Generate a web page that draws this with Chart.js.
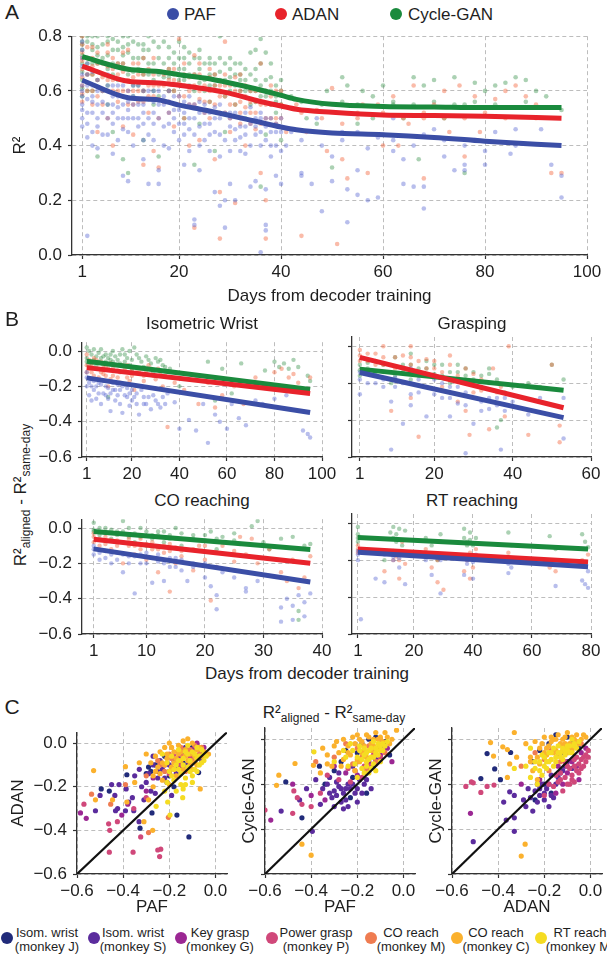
<!DOCTYPE html>
<html>
<head>
<meta charset="utf-8">
<script src="https://cdn.jsdelivr.net/npm/chart.js@4.4.0/dist/chart.umd.min.js"></script>
<style>
body { margin: 0; width: 607px; height: 955px; position: relative; background: #fff; overflow: hidden;
       font-family: "Liberation Sans", Arial, sans-serif; color: #1e1e1e; }
canvas { position: absolute; }
.c { position: absolute; white-space: nowrap; line-height: 1; transform: translate(-50%, -50%); }
.l { position: absolute; white-space: nowrap; line-height: 1; transform: translateY(-50%); font-size: 17px; }
.dot { position: absolute; width: 12px; height: 12px; border-radius: 50%; transform: translate(-50%, -50%); }
sub { font-size: 12px; vertical-align: -4px; line-height: 0; }
.leg { position: absolute; font-size: 13px; line-height: 14px; text-align: center; transform: translate(-50%, -50%); white-space: nowrap; }
</style>
</head>
<body>

<div class="c" style="left:12px;top:11px;font-size:21px">A</div>
<div class="dot" style="left:173px;top:14px;background:#3b4ea6"></div><div class="l" style="left:184px;top:14px">PAF</div>
<div class="dot" style="left:281px;top:14px;background:#e8232b"></div><div class="l" style="left:292px;top:14px">ADAN</div>
<div class="dot" style="left:396px;top:14px;background:#1a8a3d"></div><div class="l" style="left:408px;top:14px">Cycle-GAN</div>
<canvas id="cA" width="607" height="290" style="left:0;top:20px"></canvas>

<div class="c" style="left:12px;top:318px;font-size:21px">B</div>
<div class="c" style="left:202px;top:323px;font-size:17px">Isometric Wrist</div>
<div class="c" style="left:472px;top:323px;font-size:17px">Grasping</div>
<div class="c" style="left:202px;top:500px;font-size:17px">CO reaching</div>
<div class="c" style="left:472px;top:500px;font-size:17px">RT reaching</div>
<div class="c" style="left:20px;top:495px;font-size:17px;transform:translate(-50%,-50%) rotate(-90deg)">R²<sub>aligned</sub> - R²<sub>same-day</sub></div>
<div class="c" style="left:307px;top:673px;font-size:17px">Days from decoder training</div>
<canvas id="cB1" width="310" height="161" style="left:30px;top:326px"></canvas>
<canvas id="cB2" width="267" height="161" style="left:340px;top:326px"></canvas>
<canvas id="cB3" width="310" height="161" style="left:30px;top:503px"></canvas>
<canvas id="cB4" width="267" height="161" style="left:340px;top:503px"></canvas>

<div class="c" style="left:12px;top:706px;font-size:21px">C</div>
<div class="c" style="left:334px;top:712px;font-size:17px">R²<sub>aligned</sub> - R²<sub>same-day</sub></div>
<canvas id="cC1" width="236" height="206" style="left:0;top:716px"></canvas>
<canvas id="cC2" width="188" height="206" style="left:236px;top:716px"></canvas>
<canvas id="cC3" width="183" height="206" style="left:424px;top:716px"></canvas>

<div id="legC"></div>

<script>
// ---- panel A: R2 per session, days from decoder training ----
const aDays = [1, 10, 16, 20, 25, 30, 35, 40, 43, 50, 60, 70, 80, 95];
const aFitPAF = [0.639, 0.575, 0.567, 0.548, 0.53, 0.51, 0.489, 0.468, 0.458, 0.446, 0.44, 0.43, 0.416, 0.4];
const aFitADAN = [0.691, 0.635, 0.629, 0.621, 0.608, 0.591, 0.566, 0.545, 0.533, 0.522, 0.512, 0.51, 0.507, 0.5];
const aFitCycle = [0.725, 0.679, 0.671, 0.659, 0.647, 0.629, 0.608, 0.584, 0.569, 0.551, 0.543, 0.541, 0.539, 0.539];

const aPAF = [[1,0.78],[1,0.72],[1,0.66],[1,0.6],[1,0.55],[1,0.5],[1,0.47],[2,0.07],[2,0.7],[2,0.62],[2,0.43],[3,0.58],[3,0.52],[3,0.4],[4,0.64],[4,0.47],[4,0.39],[6,0.6],[6,0.5],[6,0.44],[7,0.55],[7,0.37],[9,0.62],[9,0.46],[9,0.29],[10,0.53],[10,0.27],[11,0.58],[11,0.4],[13,0.55],[13,0.48],[13,0.35],[14,0.26],[15,0.6],[15,0.42],[16,0.31],[16,0.26],[18,0.52],[18,0.39],[19,0.45],[21,0.56],[21,0.33],[22,0.5],[22,0.38],[23,0.13],[23,0.11],[24,0.47],[24,0.31],[26,0.52],[26,0.44],[27,0.23],[28,0.18],[28,0.36],[29,0.1],[29,0.2],[30,0.47],[30,0.26],[31,0.2],[32,0.43],[33,0.37],[34,0.25],[35,0.5],[35,0.27],[36,0.01],[36,0.4],[37,0.11],[37,0.09],[37,0.24],[38,0.45],[39,0.55],[39,0.29],[40,0.26],[41,0.4],[42,0.45],[44,0.3],[44,0.29],[46,0.26],[47,0.5],[48,0.16],[50,0.36],[50,0.27],[52,0.45],[53,0.12],[53,0.24],[55,0.31],[55,0.22],[57,0.39],[57,0.2],[59,0.21],[60,0.44],[62,0.5],[62,0.38],[64,0.26],[64,0.35],[66,0.25],[68,0.17],[68,0.25],[70,0.46],[72,0.36],[74,0.31],[76,0.33],[76,0.31],[78,0.42],[80,0.33],[82,0.45],[85,0.37],[86,0.46],[91,0.46],[93,0.33],[95,0.29],[95,0.21],
  [1,0.69],[1,0.62],[2,0.57],[2,0.52],[3,0.67],[3,0.62],[4,0.55],[5,0.6],[5,0.52],[6,0.66],[7,0.62],[7,0.48],[8,0.58],[8,0.5],[9,0.55],[10,0.6],[10,0.45],[11,0.5],[12,0.62],[12,0.47],[13,0.6],[14,0.57],[14,0.44],[15,0.52],[16,0.6],[17,0.55],[17,0.47],[18,0.6],[19,0.53],[20,0.58],[20,0.48],[21,0.44],[22,0.55],[23,0.5],[24,0.56],[25,0.52],[25,0.42],[27,0.5],[28,0.55],[28,0.44],[30,0.52],[31,0.46],[32,0.5],[33,0.47],[34,0.54],[35,0.44],[36,0.5],[37,0.47],[38,0.4],[39,0.45],[40,0.5],
  [1,0.75],[1,0.58],[1,0.53],[2,0.66],[2,0.48],[3,0.45],[3,0.56],[4,0.6],[4,0.5],[5,0.56],[5,0.44],[6,0.55],[6,0.62],[7,0.58],[7,0.52],[8,0.54],[8,0.62],[8,0.42],[9,0.58],[9,0.5],[10,0.56],[10,0.5],[11,0.55],[11,0.62],[12,0.55],[12,0.5],[13,0.52],[13,0.42],[14,0.6],[14,0.5],[15,0.56],[15,0.48],[16,0.55],[16,0.5],[17,0.58],[17,0.4],[18,0.56],[18,0.48],[19,0.58],[19,0.5],[20,0.53],[20,0.42],[21,0.52],[21,0.48],[22,0.58],[22,0.46],[23,0.55],[23,0.44],[24,0.52],[24,0.4],[25,0.55],[25,0.48],[26,0.48],[26,0.38],[27,0.54],[27,0.45],[28,0.5],[29,0.52],[29,0.42],[30,0.5],[30,0.38],[31,0.52],[31,0.42],[32,0.47],[32,0.38],[33,0.52],[33,0.44],[34,0.48],[34,0.4],[35,0.47],[36,0.45],[36,0.52],[37,0.5],[37,0.42],[38,0.5],[38,0.36],[39,0.48],[39,0.4],[40,0.45],[40,0.38],[44,0.42],[48,0.4],[52,0.42],[55,0.45],[59,0.43],[62,0.42],[66,0.4],[68,0.44],[72,0.42],[76,0.4],[80,0.38],[86,0.4]];
const aADAN = [[1,0.8],[1,0.74],[1,0.68],[1,0.62],[1,0.56],[2,0.72],[2,0.6],[3,0.76],[3,0.66],[3,0.55],[4,0.7],[4,0.58],[4,0.45],[6,0.74],[6,0.64],[6,0.5],[7,0.68],[7,0.4],[9,0.7],[9,0.6],[9,0.47],[10,0.75],[10,0.55],[11,0.65],[11,0.44],[13,0.72],[13,0.6],[13,0.33],[14,0.52],[15,0.66],[15,0.38],[16,0.32],[18,0.68],[18,0.56],[19,0.47],[20,0.79],[21,0.62],[21,0.5],[22,0.4],[23,0.73],[23,0.1],[24,0.57],[24,0.42],[26,0.65],[26,0.5],[27,0.35],[28,0.06],[28,0.23],[29,0.78],[29,0.58],[30,0.45],[31,0.19],[32,0.66],[32,0.52],[33,0.4],[34,0.6],[35,0.46],[36,0.7],[36,0.3],[37,0.06],[37,0.2],[38,0.55],[39,0.48],[40,0.6],[41,0.45],[43,0.55],[44,0.07],[45,0.45],[47,0.53],[49,0.38],[50,0.61],[51,0.04],[52,0.35],[53,0.28],[55,0.5],[56,0.55],[57,0.3],[59,0.55],[60,0.4],[62,0.58],[63,0.4],[65,0.48],[66,0.62],[68,0.28],[68,0.5],[70,0.55],[72,0.6],[73,0.45],[75,0.62],[76,0.36],[78,0.58],[79,0.45],[82,0.57],[84,0.6],[86,0.62],[88,0.58],[90,0.55],[93,0.3],[95,0.3],
  [1,0.77],[1,0.71],[1,0.65],[2,0.66],[3,0.72],[4,0.64],[5,0.7],[5,0.6],[6,0.69],[7,0.6],[8,0.66],[8,0.56],[9,0.64],[10,0.68],[11,0.6],[12,0.66],[12,0.56],[13,0.66],[14,0.62],[15,0.58],[16,0.67],[16,0.5],[17,0.62],[18,0.6],[19,0.64],[20,0.58],[21,0.66],[22,0.55],[23,0.62],[24,0.66],[25,0.56],[26,0.6],[27,0.62],[28,0.52],[29,0.66],[30,0.55],[31,0.6],[32,0.48],[33,0.58],[34,0.52],[35,0.56],[36,0.6],[37,0.5],[38,0.62],[39,0.55],
  [1,0.72],[1,0.59],[2,0.76],[2,0.63],[3,0.69],[3,0.6],[4,0.74],[4,0.67],[5,0.65],[5,0.55],[6,0.77],[6,0.6],[7,0.72],[7,0.64],[8,0.7],[8,0.6],[9,0.74],[9,0.67],[10,0.64],[10,0.6],[11,0.7],[11,0.55],[12,0.7],[12,0.6],[13,0.63],[13,0.56],[14,0.68],[14,0.58],[15,0.72],[15,0.62],[16,0.62],[16,0.57],[17,0.66],[17,0.56],[18,0.64],[18,0.52],[19,0.6],[19,0.68],[20,0.63],[20,0.55],[21,0.7],[21,0.58],[22,0.65],[22,0.6],[23,0.66],[23,0.55],[24,0.7],[24,0.6],[25,0.62],[25,0.52],[26,0.68],[26,0.56],[27,0.66],[27,0.55],[28,0.62],[28,0.58],[29,0.62],[29,0.52],[30,0.62],[30,0.5],[31,0.65],[31,0.55],[32,0.6],[32,0.56],[33,0.62],[33,0.54],[34,0.56],[34,0.48],[35,0.6],[35,0.52],[36,0.55],[36,0.48],[37,0.6],[37,0.55],[38,0.58],[38,0.5],[39,0.6],[39,0.5],[40,0.55],[40,0.5],[44,0.52],[48,0.5],[52,0.48],[55,0.52],[60,0.52],[64,0.5],[68,0.52],[72,0.5],[76,0.5],[80,0.52],[84,0.5],[90,0.5]];
const aCycle = [[1,0.8],[1,0.75],[1,0.7],[1,0.64],[1,0.58],[2,0.78],[2,0.66],[3,0.8],[3,0.7],[3,0.6],[4,0.76],[4,0.36],[6,0.78],[6,0.68],[6,0.55],[7,0.79],[7,0.45],[9,0.76],[9,0.64],[9,0.35],[10,0.8],[10,0.3],[11,0.72],[11,0.58],[13,0.77],[13,0.66],[13,0.42],[14,0.8],[15,0.7],[15,0.55],[16,0.36],[18,0.76],[18,0.6],[19,0.66],[20,0.78],[21,0.72],[21,0.5],[22,0.62],[23,0.33],[24,0.75],[24,0.48],[26,0.7],[26,0.56],[27,0.38],[28,0.8],[28,0.6],[29,0.45],[30,0.72],[31,0.55],[32,0.66],[33,0.5],[34,0.74],[35,0.6],[35,0.75],[36,0.79],[36,0.25],[37,0.74],[37,0.44],[38,0.65],[39,0.52],[40,0.64],[40,0.42],[42,0.58],[45,0.5],[47,0.48],[49,0.6],[50,0.32],[52,0.65],[53,0.62],[55,0.48],[56,0.6],[58,0.5],[60,0.62],[62,0.55],[64,0.5],[66,0.65],[67,0.35],[68,0.62],[70,0.64],[72,0.5],[74,0.65],[76,0.3],[76,0.55],[78,0.63],[80,0.6],[82,0.62],[84,0.63],[86,0.65],[88,0.64],[90,0.6],[92,0.58],[95,0.53],
  [1,0.78],[1,0.73],[1,0.67],[2,0.72],[3,0.75],[4,0.7],[5,0.77],[5,0.66],[6,0.73],[7,0.7],[8,0.75],[8,0.64],[9,0.7],[10,0.74],[11,0.67],[12,0.77],[12,0.62],[13,0.72],[14,0.7],[15,0.64],[16,0.76],[16,0.58],[17,0.7],[18,0.68],[19,0.74],[20,0.64],[21,0.68],[22,0.74],[23,0.6],[24,0.68],[25,0.64],[26,0.72],[27,0.62],[28,0.67],[29,0.58],[30,0.65],[31,0.7],[32,0.6],[33,0.64],[34,0.55],[35,0.68],[36,0.62],[37,0.58],[38,0.6],[39,0.56],
  [1,0.77],[1,0.61],[2,0.8],[2,0.7],[2,0.6],[3,0.77],[3,0.66],[4,0.8],[4,0.73],[4,0.64],[5,0.72],[5,0.6],[6,0.8],[6,0.62],[7,0.75],[7,0.66],[8,0.78],[8,0.7],[9,0.8],[9,0.73],[10,0.77],[10,0.66],[11,0.78],[11,0.62],[12,0.72],[12,0.68],[13,0.75],[13,0.6],[14,0.75],[14,0.66],[15,0.78],[15,0.6],[16,0.72],[16,0.66],[17,0.78],[17,0.65],[18,0.72],[18,0.65],[19,0.7],[19,0.6],[20,0.72],[20,0.68],[21,0.76],[21,0.64],[22,0.7],[22,0.66],[23,0.72],[23,0.66],[24,0.72],[24,0.63],[25,0.7],[25,0.6],[26,0.66],[26,0.62],[27,0.7],[27,0.66],[28,0.72],[28,0.64],[29,0.7],[29,0.64],[30,0.68],[30,0.6],[31,0.66],[31,0.62],[32,0.7],[32,0.64],[33,0.68],[33,0.6],[34,0.66],[34,0.6],[35,0.64],[35,0.56],[36,0.7],[36,0.58],[37,0.64],[37,0.6],[38,0.7],[38,0.55],[39,0.62],[39,0.58],[40,0.6],[40,0.55],[44,0.56],[48,0.55],[52,0.56],[55,0.55],[58,0.58],[62,0.56],[66,0.55],[70,0.56],[74,0.55],[78,0.56],[82,0.55],[88,0.56]];

// ---- panel B: R2 drop per task, linear fits as end points ----
const wristFitDays = [1, 95];
const wristFitPAF = [-0.152, -0.348];
const wristFitADAN = [-0.094, -0.24];
const wristFitCycle = [-0.058, -0.218];
const graspFitDays = [1, 53];
const graspFitPAF = [-0.142, -0.387];
const graspFitADAN = [-0.06, -0.333];
const graspFitCycle = [-0.124, -0.238];
const coFitDays = [1, 38];
const coFitPAF = [-0.118, -0.306];
const coFitADAN = [-0.064, -0.2];
const coFitCycle = [-0.019, -0.121];
const rtFitDays = [1, 79];
const rtFitPAF = [-0.157, -0.236];
const rtFitADAN = [-0.14, -0.21];
const rtFitCycle = [-0.077, -0.139];

const wristPAF = [[1,-0.12],[1,-0.2],[2,-0.25],[3,-0.16],[4,-0.22],[5,-0.27],[6,-0.18],[7,-0.3],[8,-0.24],[9,-0.2],[10,-0.27],[11,-0.34],[12,-0.22],[13,-0.28],[14,-0.19],[15,-0.3],[16,-0.35],[18,-0.26],[19,-0.31],[20,-0.22],[22,-0.3],[23,-0.36],[25,-0.26],[26,-0.3],[28,-0.33],[30,-0.28],[32,-0.32],[34,-0.3],[38,-0.29],[40,-0.44],[44,-0.39],[47,-0.45],[50,-0.3],[52,-0.52],[55,-0.36],[57,-0.4],[60,-0.44],[62,-0.3],[65,-0.38],[68,-0.42],[72,-0.28],[75,-0.3],[80,-0.27],[85,-0.25],[92,-0.45],[94,-0.47],[95,-0.49],
  [1,-0.15],[2,-0.18],[3,-0.2],[3,-0.28],[4,-0.17],[5,-0.2],[6,-0.24],[7,-0.19],[8,-0.17],[9,-0.25],[10,-0.21],[11,-0.24],[12,-0.18],[13,-0.22],[14,-0.25],[15,-0.22],[16,-0.2],[17,-0.25],[18,-0.21],[19,-0.24],[20,-0.28],[21,-0.26],[22,-0.24],[24,-0.22],[25,-0.3],[27,-0.26],[29,-0.25],[31,-0.3],[33,-0.26],[35,-0.24]];
const wristADAN = [[1,-0.02],[1,-0.08],[2,-0.05],[3,-0.12],[4,-0.04],[5,-0.1],[6,-0.15],[7,-0.06],[8,-0.13],[9,-0.09],[10,-0.2],[11,-0.07],[12,-0.14],[14,-0.11],[15,-0.18],[16,-0.08],[18,-0.15],[20,-0.1],[21,-0.22],[23,-0.12],[25,-0.17],[27,-0.08],[29,-0.14],[31,-0.1],[33,-0.2],[35,-0.43],[38,-0.18],[42,-0.22],[48,-0.3],[52,-0.18],[55,-0.32],[58,-0.25],[63,-0.2],[67,-0.3],[72,-0.15],[76,-0.21],[80,-0.12],[83,-0.1],[86,-0.15],[88,-0.13],[90,-0.18],[93,-0.22],[95,-0.15],
  [1,-0.12],[2,-0.1],[3,-0.08],[4,-0.14],[5,-0.05],[6,-0.1],[7,-0.12],[8,-0.08],[9,-0.14],[10,-0.1],[11,-0.16],[12,-0.1],[13,-0.08],[14,-0.15],[15,-0.12],[17,-0.1],[18,-0.08],[19,-0.17],[20,-0.14],[22,-0.12],[24,-0.1],[25,-0.14],[26,-0.12],[28,-0.1],[30,-0.16],[32,-0.12],[34,-0.14]];
const wristCycle = [[1,0.02],[1,-0.04],[2,0.0],[3,-0.07],[4,0.01],[5,-0.03],[6,-0.06],[7,0.01],[8,-0.1],[9,-0.02],[10,-0.26],[11,-0.05],[12,0.0],[13,-0.08],[15,-0.02],[16,0.01],[17,-0.06],[19,0.0],[20,-0.11],[21,0.02],[23,-0.04],[25,-0.09],[27,-0.05],[29,-0.12],[31,-0.06],[33,-0.08],[36,-0.1],[40,-0.2],[47,-0.14],[52,-0.06],[55,-0.28],[58,-0.1],[62,-0.24],[66,-0.07],[70,-0.2],[76,-0.11],[80,-0.06],[82,-0.09],[84,-0.07],[86,-0.1],[88,-0.05],[90,-0.09],[94,-0.14],[95,-0.17],
  [1,-0.06],[2,-0.08],[3,-0.02],[4,-0.05],[5,-0.08],[6,-0.01],[7,-0.04],[8,-0.03],[9,-0.06],[10,-0.04],[11,-0.02],[12,-0.06],[13,-0.03],[14,-0.05],[15,-0.07],[17,-0.02],[18,-0.04],[19,-0.08],[20,-0.05],[22,-0.02],[24,-0.06],[26,-0.03],[28,-0.07],[30,-0.04],[32,-0.05],[34,-0.09]];
const graspPAF = [[1,-0.18],[1,-0.26],[3,-0.15],[5,-0.2],[7,-0.22],[9,-0.56],[9,-0.3],[10,-0.17],[12,-0.42],[14,-0.12],[14,-0.32],[14,-0.2],[16,-0.25],[18,-0.38],[20,-0.18],[22,-0.28],[24,-0.22],[24,-0.38],[26,-0.31],[28,-0.58],[28,-0.25],[30,-0.42],[32,-0.3],[34,-0.34],[36,-0.28],[37,-0.56],[38,-0.35],[40,-0.3],[44,-0.37],[47,-0.28],[53,-0.5],[53,-0.28],
  [1,-0.14],[3,-0.2],[5,-0.16],[7,-0.18],[10,-0.22],[12,-0.2],[14,-0.26],[16,-0.18],[18,-0.22],[20,-0.26],[22,-0.2],[24,-0.28],[26,-0.22],[28,-0.32],[30,-0.28],[32,-0.35],[34,-0.28],[36,-0.32],[38,-0.28]];
const graspADAN = [[1,-0.02],[1,-0.08],[3,-0.04],[5,-0.1],[7,0.0],[7,-0.06],[9,-0.35],[10,-0.12],[12,-0.05],[14,0.0],[14,-0.1],[14,-0.28],[16,-0.49],[16,-0.15],[18,-0.07],[20,-0.12],[22,-0.22],[24,-0.05],[24,-0.18],[26,-0.3],[28,-0.12],[28,-0.35],[29,-0.48],[30,-0.25],[32,-0.18],[34,-0.45],[35,-0.12],[37,-0.22],[38,-0.38],[39,0.0],[44,-0.48],[50,-0.1],[52,-0.43],[52,-0.52],
  [1,-0.05],[3,-0.08],[5,-0.04],[7,-0.1],[10,-0.06],[12,-0.12],[14,-0.06],[16,-0.08],[18,-0.12],[20,-0.08],[22,-0.14],[24,-0.1],[26,-0.16],[28,-0.2],[30,-0.15],[32,-0.24],[34,-0.2],[36,-0.25]];
const graspCycle = [[1,-0.1],[1,-0.16],[3,-0.12],[5,-0.08],[7,-0.14],[9,-0.2],[10,-0.06],[12,-0.1],[14,-0.04],[14,-0.18],[16,-0.12],[18,-0.08],[20,-0.15],[22,-0.1],[24,-0.2],[26,-0.14],[28,-0.12],[30,-0.18],[32,-0.22],[34,-0.15],[36,-0.44],[37,-0.4],[38,-0.25],[40,-0.22],[44,-0.2],[47,-0.22],[50,-0.1],[53,-0.18],
  [1,-0.13],[3,-0.09],[5,-0.14],[7,-0.1],[10,-0.16],[12,-0.14],[14,-0.1],[16,-0.16],[18,-0.12],[20,-0.1],[22,-0.16],[24,-0.14],[26,-0.1],[28,-0.16],[30,-0.14],[32,-0.16],[34,-0.12],[36,-0.18]];
const coPAF = [[1,-0.1],[1,-0.15],[2,-0.18],[3,-0.13],[4,-0.2],[5,-0.14],[6,-0.25],[7,-0.16],[8,-0.37],[9,-0.2],[10,-0.14],[11,-0.31],[12,-0.19],[13,-0.3],[14,-0.22],[15,-0.17],[16,-0.24],[17,-0.3],[18,-0.2],[20,-0.28],[21,-0.33],[22,-0.46],[22,-0.38],[23,-0.25],[25,-0.28],[27,-0.36],[27,-0.34],[29,-0.3],[31,-0.27],[33,-0.53],[33,-0.45],[34,-0.4],[35,-0.52],[35,-0.44],[36,-0.38],[37,-0.42],[37,-0.5],[38,-0.37],
  [1,-0.12],[2,-0.14],[3,-0.17],[4,-0.15],[5,-0.18],[6,-0.15],[7,-0.2],[8,-0.16],[9,-0.15],[10,-0.2],[11,-0.17],[12,-0.15],[13,-0.2],[14,-0.17],[15,-0.22],[16,-0.18],[18,-0.22],[20,-0.2],[22,-0.22],[25,-0.24]];
const coADAN = [[1,-0.03],[1,-0.08],[2,-0.1],[3,-0.05],[4,-0.12],[5,-0.07],[6,-0.2],[7,-0.1],[8,-0.15],[9,-0.06],[10,-0.18],[11,-0.12],[12,-0.25],[13,-0.14],[14,-0.36],[14,-0.09],[15,-0.2],[16,-0.13],[18,-0.24],[19,-0.1],[20,-0.18],[21,-0.41],[22,-0.22],[23,-0.1],[25,-0.19],[26,-0.05],[27,-0.15],[28,-0.06],[29,-0.2],[31,-0.12],[33,-0.25],[34,-0.3],[35,-0.18],[36,-0.34],[37,-0.28],[38,-0.16],
  [1,-0.05],[2,-0.06],[3,-0.09],[4,-0.07],[5,-0.1],[6,-0.08],[7,-0.06],[8,-0.1],[9,-0.12],[10,-0.09],[11,-0.08],[12,-0.12],[13,-0.1],[14,-0.13],[15,-0.11],[16,-0.16],[18,-0.12],[20,-0.1],[22,-0.14],[25,-0.13]];
const coCycle = [[1,0.03],[1,-0.02],[2,-0.04],[3,0.0],[4,-0.06],[5,-0.02],[6,0.04],[7,-0.05],[8,-0.08],[9,0.0],[10,-0.1],[11,-0.04],[12,-0.02],[13,-0.08],[14,-0.06],[15,0.0],[16,-0.1],[18,-0.04],[20,-0.07],[21,-0.02],[22,-0.12],[23,-0.05],[25,-0.03],[26,-0.09],[28,0.01],[29,0.04],[30,-0.08],[31,-0.12],[33,-0.06],[35,-0.05],[36,-0.47],[36,-0.52],[37,-0.1],[38,-0.09],
  [1,-0.01],[2,0.0],[3,-0.03],[4,-0.01],[5,-0.04],[6,-0.02],[7,0.0],[8,-0.03],[9,-0.05],[10,-0.02],[11,-0.06],[12,-0.04],[13,-0.02],[14,-0.04],[15,-0.06],[16,-0.03],[18,-0.06],[20,-0.04],[22,-0.06],[25,-0.07]];
const rtPAF = [[1,-0.15],[1,-0.2],[2,-0.52],[7,-0.3],[10,-0.17],[10,-0.32],[13,-0.2],[15,-0.24],[17,-0.33],[24,-0.2],[26,-0.28],[29,-0.38],[29,-0.2],[37,-0.28],[38,-0.22],[40,-0.3],[41,-0.17],[52,-0.27],[52,-0.2],[53,-0.24],[66,-0.2],[68,-0.34],[77,-0.31],[78,-0.33],[79,-0.35],[79,-0.26],
  [1,-0.17],[13,-0.18],[14,-0.16],[15,-0.19],[38,-0.2],[39,-0.18],[40,-0.21],[52,-0.22]];
const rtADAN = [[1,-0.12],[1,-0.16],[10,-0.26],[11,-0.15],[13,-0.2],[15,-0.3],[16,-0.1],[17,-0.22],[24,-0.14],[26,-0.24],[28,-0.32],[29,-0.1],[30,-0.36],[37,-0.26],[38,-0.18],[39,-0.3],[40,-0.24],[41,-0.14],[52,-0.16],[53,-0.2],[66,-0.24],[68,-0.26],[77,-0.2],[78,-0.22],[79,-0.17],
  [1,-0.14],[13,-0.15],[14,-0.18],[15,-0.2],[28,-0.2],[38,-0.2],[39,-0.16],[40,-0.19]];
const rtCycle = [[1,-0.02],[1,-0.06],[1,-0.1],[10,-0.2],[12,-0.05],[13,-0.02],[14,-0.1],[15,-0.03],[16,-0.12],[17,-0.04],[24,-0.08],[26,-0.12],[28,-0.2],[29,-0.06],[37,-0.03],[38,-0.1],[39,-0.05],[40,-0.12],[41,-0.08],[52,-0.05],[53,-0.12],[66,-0.07],[68,-0.14],[77,-0.06],[78,-0.1],[79,-0.13],
  [1,-0.08],[13,-0.08],[14,-0.06],[15,-0.09],[29,-0.1],[37,-0.08],[38,-0.12],[39,-0.09]];

// ---- panel C: pairwise comparison per monkey/task ----
const groupNames = ['Isom. wrist\n(monkey J)', 'Isom. wrist\n(monkey S)', 'Key grasp\n(monkey G)', 'Power grasp\n(monkey P)', 'CO reach\n(monkey M)', 'CO reach\n(monkey C)', 'RT reach\n(monkey M)'];
const groupColors = ['#212b7a', '#5b2c9d', '#9b2793', '#d0487a', '#ef7c51', '#fbb12d', '#f5dc22'];

const c1J = [[-0.495,-0.21],[-0.46,-0.22],[-0.384,-0.145],[-0.327,-0.39],[-0.275,-0.32],[-0.29,-0.11],[-0.28,-0.13],[-0.26,-0.1],[-0.3,-0.14],[-0.22,-0.06],[-0.18,-0.2],[-0.167,-0.33],[-0.115,-0.43],[-0.073,-0.135],[-0.06,-0.04],[-0.1,-0.02],[-0.05,-0.05],[-0.08,-0.06],[-0.14,-0.09],[-0.2,-0.15]];
const c1S = [[-0.52,-0.31],[-0.5,-0.24],[-0.45,-0.19],[-0.436,-0.24],[-0.433,-0.31],[-0.424,-0.3],[-0.418,-0.19],[-0.387,-0.21],[-0.376,-0.27],[-0.39,-0.31],[-0.354,-0.31],[-0.331,-0.36],[-0.261,-0.23],[-0.32,-0.2],[-0.3,-0.18],[-0.28,-0.22],[-0.35,-0.15],[-0.33,-0.12],[-0.25,-0.16],[-0.24,-0.08],[-0.21,-0.18],[-0.2,-0.1],[-0.17,-0.14],[-0.15,-0.05],[-0.12,-0.1],[-0.1,-0.06],[-0.08,-0.01],[-0.06,-0.08],[-0.13,-0.02],[-0.23,-0.12],[-0.27,-0.06],[-0.36,-0.25],[-0.31,-0.26],[-0.19,-0.24],
  [-0.29,-0.14],[-0.27,-0.1],[-0.25,-0.13],[-0.22,-0.16],[-0.2,-0.13],[-0.18,-0.08],[-0.16,-0.11],[-0.14,-0.04]];
const c1G = [[-0.585,-0.32],[-0.56,-0.345],[-0.406,-0.33],[-0.38,-0.28],[-0.3,-0.22],[-0.27,-0.16],[-0.22,-0.1],[-0.16,-0.07],[-0.1,-0.03],[-0.08,0.0],[-0.14,-0.11],[-0.05,-0.02]];
const c1P = [[-0.57,-0.28],[-0.463,-0.37],[-0.458,-0.4],[-0.46,-0.5],[-0.425,-0.36],[-0.357,-0.5],[-0.324,-0.43],[-0.25,-0.49],[-0.237,-0.486],[-0.242,-0.52],[-0.354,-0.3],[-0.3,-0.25],[-0.2,-0.14],[-0.15,-0.1],[-0.11,-0.06],[-0.07,-0.03],[-0.18,-0.06]];
const c1M = [[-0.537,-0.234],[-0.454,-0.28],[-0.39,-0.19],[-0.29,-0.41],[-0.204,-0.34],[-0.3,-0.15],[-0.25,-0.08],[-0.2,-0.05],[-0.17,-0.09],[-0.15,-0.02],[-0.12,-0.04],[-0.1,-0.08],[-0.09,-0.01],[-0.07,-0.05],[-0.13,-0.13],[-0.22,-0.13],[-0.06,-0.02],
  [-0.19,-0.07],[-0.16,-0.04],[-0.14,-0.06],[-0.11,-0.03],[-0.18,-0.12],[-0.24,-0.1]];
const c1C = [[-0.528,-0.126],[-0.52,-0.26],[-0.446,-0.26],[-0.39,-0.108],[-0.384,-0.27],[-0.31,-0.36],[-0.272,-0.4],[-0.066,-0.21],[-0.35,-0.18],[-0.33,-0.09],[-0.3,-0.05],[-0.28,-0.09],[-0.26,-0.13],[-0.24,-0.04],[-0.22,-0.02],[-0.2,0.0],[-0.18,-0.04],[-0.16,-0.01],[-0.14,0.01],[-0.12,0.02],[-0.1,0.0],[-0.08,-0.03],[-0.05,-0.04],[-0.03,-0.05],[-0.19,-0.11],[-0.17,-0.15],[-0.23,-0.17],[-0.27,-0.2],[-0.21,-0.07],[-0.13,-0.06],[-0.11,-0.1],[-0.09,-0.06],[-0.15,-0.04],[-0.25,-0.11],[-0.2,-0.19],[-0.29,-0.26],
  [-0.21,-0.05],[-0.19,-0.02],[-0.17,-0.07],[-0.15,-0.08],[-0.13,-0.03],[-0.11,-0.05],[-0.09,-0.09],[-0.07,-0.02],[-0.06,-0.06],[-0.18,-0.09],[-0.16,-0.05],[-0.14,-0.12],[-0.12,-0.08],[-0.1,-0.12],[-0.08,-0.1],[-0.23,-0.09],[-0.26,-0.06],[-0.27,-0.15],[-0.24,-0.14],[-0.22,-0.1]];
const c1RT = [[-0.257,-0.29],[-0.207,-0.27],[-0.197,-0.33],[-0.142,-0.25],[-0.22,-0.22],[-0.18,-0.17],[-0.16,-0.12],[-0.14,-0.07],[-0.12,-0.05],[-0.1,-0.04],[-0.08,-0.07],[-0.07,-0.1],[-0.06,-0.03],[-0.11,-0.13],[-0.13,-0.16],[-0.15,-0.19],[-0.17,-0.22],[-0.19,-0.06],[-0.21,-0.09],[-0.23,-0.05],[-0.12,-0.01],[-0.09,-0.12],[-0.05,-0.08],[-0.04,-0.06],[-0.16,-0.03],[-0.2,-0.13],[-0.1,-0.18],[-0.14,-0.21],
  [-0.18,-0.12],[-0.16,-0.08],[-0.14,-0.1],[-0.13,-0.04],[-0.11,-0.08],[-0.09,-0.05],[-0.08,-0.02],[-0.07,-0.06],[-0.06,-0.09],[-0.05,-0.05],[-0.12,-0.11],[-0.15,-0.14],[-0.17,-0.1],[-0.19,-0.15],[-0.21,-0.18],[-0.13,-0.19],[-0.1,-0.15],[-0.08,-0.13]];

const c2J = [[-0.51,-0.19],[-0.44,-0.35],[-0.364,-0.12],[-0.34,-0.2],[-0.3,-0.14],[-0.27,-0.1],[-0.25,-0.05],[-0.22,-0.17],[-0.2,-0.06],[-0.18,-0.02],[-0.15,0.0],[-0.12,0.01],[-0.1,-0.03],[-0.08,-0.01],[-0.06,-0.07],[-0.23,-0.26],[-0.16,-0.24],[-0.13,-0.12]];
const c2S = [[-0.53,-0.32],[-0.45,-0.27],[-0.395,-0.41],[-0.42,-0.22],[-0.38,-0.18],[-0.35,-0.22],[-0.33,-0.2],[-0.32,-0.17],[-0.31,-0.26],[-0.3,-0.23],[-0.29,-0.19],[-0.28,-0.21],[-0.27,-0.28],[-0.26,-0.24],[-0.25,-0.27],[-0.24,-0.2],[-0.23,-0.22],[-0.21,-0.24],[-0.2,-0.28],[-0.19,-0.18],[-0.17,-0.2],[-0.15,-0.14],[-0.28,-0.15],[-0.36,-0.29],[-0.22,-0.12],[-0.12,-0.09],[-0.14,-0.22],[-0.26,-0.31],
  [-0.32,-0.24],[-0.29,-0.25],[-0.27,-0.22],[-0.25,-0.22],[-0.22,-0.2],[-0.2,-0.22],[-0.18,-0.24],[-0.16,-0.18],[-0.3,-0.3],[-0.24,-0.3]];
const c2G = [[-0.575,-0.36],[-0.48,-0.2],[-0.4,-0.25],[-0.34,-0.27],[-0.3,-0.12],[-0.25,-0.15],[-0.2,-0.16],[-0.15,-0.1],[-0.1,-0.07],[-0.07,-0.04],[-0.05,-0.1]];
const c2P = [[-0.6,-0.315],[-0.475,-0.23],[-0.48,-0.33],[-0.46,-0.26],[-0.44,-0.29],[-0.4,-0.3],[-0.36,-0.24],[-0.33,-0.16],[-0.28,-0.18],[-0.24,-0.13],[-0.2,-0.1],[-0.17,-0.12],[-0.13,-0.07],[-0.11,-0.1],[-0.09,-0.05],[-0.23,-0.19],
  [-0.21,-0.14],[-0.18,-0.17],[-0.15,-0.12],[-0.12,-0.11],[-0.1,-0.08]];
const c2M = [[-0.38,-0.1],[-0.3,-0.08],[-0.25,-0.02],[-0.2,-0.04],[-0.18,-0.08],[-0.15,-0.03],[-0.13,-0.05],[-0.1,0.0],[-0.08,-0.06],[-0.22,-0.11],[-0.16,-0.14],[-0.12,-0.1]];
const c2C = [[-0.54,-0.16],[-0.55,-0.205],[-0.47,-0.108],[-0.39,-0.116],[-0.44,-0.467],[-0.4,-0.516],[-0.35,-0.04],[-0.33,-0.07],[-0.3,-0.03],[-0.28,-0.06],[-0.26,0.0],[-0.24,-0.06],[-0.22,0.01],[-0.2,0.02],[-0.18,-0.01],[-0.16,0.02],[-0.14,-0.02],[-0.12,0.03],[-0.1,0.01],[-0.08,0.03],[-0.05,0.0],[-0.03,0.04],[-0.26,-0.09],[-0.21,-0.14],[-0.17,-0.05],[-0.31,-0.12],[-0.19,-0.1],[-0.13,0.0],[-0.11,-0.04],[-0.36,-0.15],[-0.27,-0.12],
  [-0.24,-0.03],[-0.21,-0.02],[-0.19,0.0],[-0.17,-0.03],[-0.15,0.01],[-0.13,-0.03],[-0.11,0.0],[-0.09,-0.01],[-0.07,0.01],[-0.06,-0.02],[-0.18,-0.06],[-0.16,-0.08],[-0.14,-0.05],[-0.12,-0.07],[-0.2,-0.09],[-0.23,-0.07],[-0.29,-0.01],[-0.33,-0.11]];
const c2RT = [[-0.388,-0.056],[-0.3,-0.1],[-0.25,-0.08],[-0.22,-0.05],[-0.2,-0.08],[-0.19,-0.03],[-0.17,-0.07],[-0.16,-0.1],[-0.15,-0.05],[-0.14,-0.08],[-0.13,-0.11],[-0.12,-0.06],[-0.11,-0.02],[-0.1,-0.05],[-0.09,-0.02],[-0.18,-0.13],[-0.15,-0.15],[-0.21,-0.11],[-0.23,-0.02],[-0.07,-0.01],[-0.12,-0.14],[-0.2,-0.17],[-0.1,-0.1],
  [-0.19,-0.05],[-0.18,-0.09],[-0.17,-0.04],[-0.16,-0.06],[-0.15,-0.09],[-0.14,-0.04],[-0.13,-0.08],[-0.12,-0.04],[-0.11,-0.07],[-0.1,-0.03],[-0.09,-0.05],[-0.08,-0.03],[-0.16,-0.12],[-0.14,-0.13],[-0.17,-0.15],[-0.13,-0.01],[-0.24,-0.12],[-0.26,-0.05]];

const c3J = [[-0.448,-0.064],[-0.346,-0.059],[-0.415,-0.132],[-0.475,-0.175],[-0.39,-0.18],[-0.25,-0.1],[-0.22,-0.05],[-0.18,-0.02],[-0.15,0.02],[-0.1,0.01],[-0.08,-0.02],[-0.05,-0.04],[-0.2,-0.2],[-0.17,-0.24],[-0.24,-0.27],[-0.12,-0.06]];
const c3S = [[-0.508,-0.456],[-0.376,-0.28],[-0.365,-0.36],[-0.33,-0.41],[-0.33,-0.35],[-0.35,-0.234],[-0.33,-0.25],[-0.28,-0.3],[-0.26,-0.26],[-0.24,-0.23],[-0.23,-0.28],[-0.22,-0.25],[-0.21,-0.2],[-0.2,-0.27],[-0.19,-0.22],[-0.18,-0.3],[-0.16,-0.26],[-0.15,-0.2],[-0.14,-0.17],[-0.12,-0.14],[-0.1,-0.1],[-0.08,-0.13],[-0.27,-0.22],[-0.17,-0.16],[-0.25,-0.32],[-0.29,-0.27],
  [-0.22,-0.22],[-0.2,-0.24],[-0.18,-0.2],[-0.17,-0.25],[-0.23,-0.2],[-0.13,-0.15],[-0.11,-0.12]];
const c3G = [[-0.52,-0.33],[-0.3,-0.2],[-0.22,-0.18],[-0.15,-0.24],[-0.12,-0.2],[-0.1,-0.15],[-0.08,-0.1],[-0.06,-0.12],[-0.04,-0.06],[-0.02,-0.04],[-0.14,-0.12],[-0.05,-0.18]];
const c3P = [[-0.54,-0.21],[-0.516,-0.19],[-0.508,-0.194],[-0.475,-0.237],[-0.448,-0.21],[-0.418,-0.204],[-0.2,-0.25],[-0.18,-0.2],[-0.16,-0.21],[-0.14,-0.19],[-0.13,-0.15],[-0.11,-0.17],[-0.1,-0.12],[-0.09,-0.2],[-0.08,-0.16],[-0.07,-0.09],[-0.06,-0.14],[-0.05,-0.11],[-0.04,-0.13],[-0.03,-0.08],[-0.02,-0.1],[-0.01,-0.05],[-0.12,-0.23],[-0.15,-0.16],[-0.07,-0.19],
  [-0.11,-0.1],[-0.09,-0.13],[-0.07,-0.12],[-0.06,-0.08],[-0.05,-0.15],[-0.03,-0.12],[-0.02,-0.07],[-0.08,-0.18],[-0.1,-0.2],[-0.13,-0.18],[-0.04,-0.09],[-0.01,-0.08]];
const c3M = [[-0.3,-0.12],[-0.24,-0.06],[-0.2,-0.09],[-0.17,-0.05],[-0.14,-0.07],[-0.12,-0.03],[-0.1,-0.06],[-0.08,-0.04],[-0.06,-0.01],[-0.04,-0.02],[-0.18,-0.14],[-0.13,-0.1]];
const c3C = [[-0.433,-0.015],[-0.38,-0.034],[-0.36,-0.046],[-0.42,-0.075],[-0.36,-0.17],[-0.283,-0.467],[-0.3,-0.52],[-0.33,0.03],[-0.28,-0.02],[-0.26,-0.08],[-0.24,-0.01],[-0.22,-0.04],[-0.2,0.01],[-0.18,-0.03],[-0.16,0.0],[-0.14,0.02],[-0.12,0.0],[-0.1,0.03],[-0.08,0.01],[-0.06,0.02],[-0.04,0.0],[-0.02,0.01],[-0.25,-0.14],[-0.22,-0.11],[-0.19,-0.07],[-0.15,-0.05],[-0.11,-0.02],[-0.35,-0.11],[-0.32,-0.08],[-0.23,-0.18],
  [-0.19,-0.04],[-0.17,-0.01],[-0.15,0.0],[-0.13,-0.02],[-0.11,0.01],[-0.09,-0.02],[-0.07,0.0],[-0.05,-0.02],[-0.03,0.02],[-0.2,-0.06],[-0.16,-0.06],[-0.12,-0.05],[-0.1,-0.04],[-0.08,-0.05],[-0.23,-0.08],[-0.26,-0.1],[-0.21,-0.02],[-0.17,0.01]];
const c3RT = [[-0.28,-0.12],[-0.26,-0.04],[-0.24,-0.1],[-0.22,-0.14],[-0.21,-0.07],[-0.2,-0.12],[-0.19,-0.1],[-0.18,-0.06],[-0.17,-0.09],[-0.16,-0.04],[-0.15,-0.08],[-0.14,-0.03],[-0.13,-0.06],[-0.12,-0.09],[-0.11,-0.05],[-0.1,-0.03],[-0.09,-0.06],[-0.08,0.0],[-0.07,-0.03],[-0.26,-0.17],[-0.23,-0.2],[-0.05,-0.01],[-0.33,-0.13],
  [-0.2,-0.08],[-0.18,-0.1],[-0.17,-0.06],[-0.15,-0.1],[-0.14,-0.06],[-0.13,-0.08],[-0.12,-0.04],[-0.11,-0.07],[-0.1,-0.05],[-0.09,-0.03],[-0.08,-0.06],[-0.07,-0.02],[-0.06,-0.04],[-0.22,-0.1],[-0.24,-0.13],[-0.21,-0.16],[-0.19,-0.13],[-0.16,-0.12]];

const diag = [-0.6, 0.05];

// ---- styling ----
const BLUE = '#3b4ea6', RED = '#e8232b', GREEN = '#1a8a3d';
const BLUE_PT = 'rgba(85,100,210,0.42)', RED_PT = 'rgba(243,105,65,0.45)', GREEN_PT = 'rgba(55,145,75,0.42)';

Chart.defaults.font.family = '"Liberation Sans", Arial, sans-serif';
Chart.defaults.font.size = 17;
Chart.defaults.color = '#1e1e1e';

const pts = a => a.map(([x, y]) => ({x, y}));
const pairs = (xs, ys) => xs.map((x, i) => ({x, y: ys[i]}));
const minus = v => Number(v).toFixed(1).replace('-', '\u2212');

function axis(range, ticks, o) {
  return {
    type: 'linear', min: range[0], max: range[1],
    afterBuildTicks: s => { s.ticks = ticks.map(v => ({value: v})); },
    afterFit: s => { if (o.w !== undefined) s.width = o.w; if (o.h !== undefined) s.height = o.h; },
    ticks: { display: o.labels !== false, padding: o.pad, autoSkip: false, maxRotation: 0, callback: o.fmt || (v => v) },
    grid: { color: '#bdbdbd', lineWidth: 1, tickLength: 4, tickColor: '#333', tickWidth: 1.2 },
    border: { color: '#333', width: 1.3, dash: [4, 3] },
    title: o.title ? { display: true, text: o.title, padding: o.tpad } : { display: false }
  };
}

function fitLine(xs, ys, color, order, smooth) {
  return { type: 'line', data: pairs(xs, ys), borderColor: color, borderWidth: 5, pointRadius: 0,
           fill: false, order, cubicInterpolationMode: smooth ? 'monotone' : 'default', borderCapStyle: 'butt' };
}
function cloud(a, color, order, r) {
  return { data: pts(a), backgroundColor: color, borderWidth: 0, pointRadius: r, order };
}

function draw(id, datasets, pad, x, y) {
  new Chart(document.getElementById(id), {
    type: 'scatter',
    data: { datasets },
    options: {
      responsive: false, animation: false, events: [], devicePixelRatio: 1,
      layout: { padding: pad },
      plugins: { legend: { display: false }, tooltip: { enabled: false } },
      scales: { x, y }
    }
  });
}

// panel A
draw('cA', [
  fitLine(aDays, aFitPAF, BLUE, 0, true),
  fitLine(aDays, aFitADAN, RED, 1, true),
  fitLine(aDays, aFitCycle, GREEN, 2, true),
  cloud(aPAF, BLUE_PT, 3, 2.3),
  cloud(aADAN, RED_PT, 4, 2.3),
  cloud(aCycle, GREEN_PT, 5, 2.3)
], { top: 12, right: 20, left: 0, bottom: 0 },
  axis([-1, 100], [1, 20, 40, 60, 80, 100], { h: 55, pad: 3, title: 'Days from decoder training', tpad: { top: 0, bottom: 3 } }),
  axis([0, 0.8], [0, 0.2, 0.4, 0.6, 0.8], { w: 72, pad: 6, fmt: minus, title: 'R²', tpad: { top: 10, bottom: 0 } }));

// panel B
const bY = [-0.6, -0.4, -0.2, 0];
function bPanel(id, days, fP, fA, fC, sP, sA, sC, xr, xt, yw, withLabels, padR) {
  draw(id, [
    fitLine(days, fP, BLUE, 0, false),
    fitLine(days, fA, RED, 1, false),
    fitLine(days, fC, GREEN, 2, false),
    cloud(sP, BLUE_PT, 3, 2.2),
    cloud(sA, RED_PT, 4, 2.2),
    cloud(sC, GREEN_PT, 5, 2.2)
  ], { top: 11, right: padR, left: 0, bottom: 0 },
    axis(xr, xt, { h: 30, pad: 3 }),
    axis([-0.6, 0.05], bY, { w: yw, pad: 6, fmt: minus, labels: withLabels }));
}
bPanel('cB1', wristFitDays, wristFitPAF, wristFitADAN, wristFitCycle, wristPAF, wristADAN, wristCycle, [-1, 100], [1, 20, 40, 60, 80, 100], 52, true, 18);
bPanel('cB2', graspFitDays, graspFitPAF, graspFitADAN, graspFitCycle, graspPAF, graspADAN, graspCycle, [-1, 60], [1, 20, 40, 60], 12, false, 16);
bPanel('cB3', coFitDays, coFitPAF, coFitADAN, coFitCycle, coPAF, coADAN, coCycle, [-1, 40], [1, 10, 20, 30, 40], 52, true, 18);
bPanel('cB4', rtFitDays, rtFitPAF, rtFitADAN, rtFitCycle, rtPAF, rtADAN, rtCycle, [-1, 80], [1, 20, 40, 60, 80], 12, false, 16);

// panel C
const cT = [-0.6, -0.4, -0.2, 0];
function cPanel(id, groups, xTitle, yTitle, yw, yLabels, yTitlePad, padR) {
  const sets = [{ type: 'line', data: pairs(diag, diag), borderColor: '#111', borderWidth: 2.2, pointRadius: 0, order: 0 }];
  groups.forEach((g, i) => sets.push(cloud(g, groupColors[i], 7 - i, 2.6)));
  draw(id, sets, { top: 12, right: padR, left: 0, bottom: 0 },
    axis([-0.6, 0.05], cT, { h: 48, pad: 3, fmt: minus, title: xTitle, tpad: { top: 0, bottom: 4 } }),
    axis([-0.6, 0.05], cT, { w: yw, pad: 6, fmt: minus, labels: yLabels, title: yTitle, tpad: { top: yTitlePad, bottom: 0 } }));
}
cPanel('cC1', [c1J, c1S, c1G, c1P, c1M, c1C, c1RT], 'PAF', 'ADAN', 77, true, 7.8, 9);
cPanel('cC2', [c2J, c2S, c2G, c2P, c2M, c2C, c2RT], 'PAF', 'Cycle-GAN', 29, false, 2.8, 9);
cPanel('cC3', [c3J, c3S, c3G, c3P, c3M, c3C, c3RT], 'ADAN', 'Cycle-GAN', 28, false, 1.8, 5);

// legend for panel C
const legDotX = [7, 94, 181, 272, 371, 457, 541];
const legTextX = [47, 133, 220, 316, 411, 496, 580];
const leg = document.getElementById('legC');
groupNames.forEach((n, i) => {
  const d = document.createElement('div');
  d.className = 'dot';
  d.style.cssText = `left:${legDotX[i]}px;top:938px;background:${groupColors[i]}`;
  leg.appendChild(d);
  const t = document.createElement('div');
  t.className = 'leg';
  t.style.cssText = `left:${legTextX[i]}px;top:940px`;
  t.innerHTML = n.replace('\n', '<br>');
  leg.appendChild(t);
});
</script>
</body>
</html>
